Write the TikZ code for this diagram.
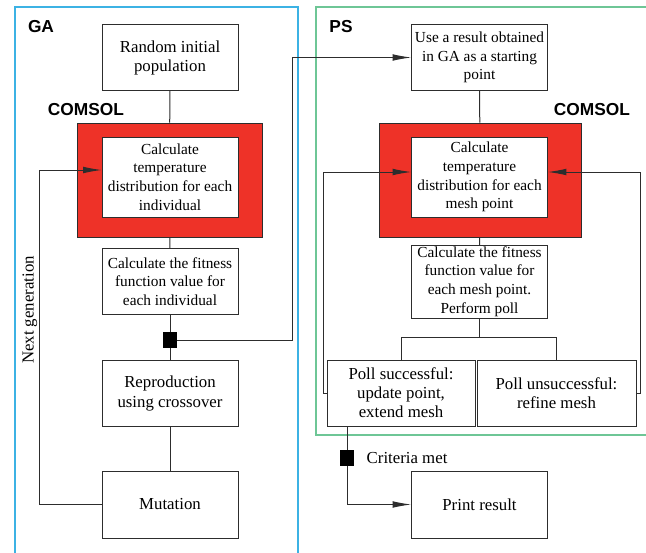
\documentclass[tikz,border=0pt]{standalone}
\usepackage{fontspec}
\setmainfont{Liberation Serif}
\setsansfont{Liberation Sans}
\usepackage{xcolor}
\definecolor{gablue}{RGB}{60,178,228}
\definecolor{psgreen}{RGB}{110,198,150}
\definecolor{comsolred}{RGB}{238,50,40}
\definecolor{darkline}{RGB}{45,45,45}
\usetikzlibrary{arrows.meta,positioning,calc}

\begin{document}
\begin{tikzpicture}[x=0.75pt, y=-0.75pt,
        box/.style={rectangle, draw=darkline, fill=white, minimum width=102pt, minimum height=49.5pt, align=center, inner sep=1pt, font=\fontsize{11.5}{14}\selectfont},
        bigtext/.style={font=\fontsize{12.6}{14.3}\selectfont},
        redbox/.style={rectangle, draw=darkline, fill=comsolred, minimum height=85.5pt},
        link/.style={draw=darkline, line width=0.75pt},
        arrow/.style={link, -{Latex[length=14pt, width=5pt]}},
        junction/.style={rectangle, fill=black, minimum width=10.5pt, minimum height=12pt, inner sep=0pt},
        tag/.style={font=\sffamily\bfseries\fontsize{13}{15}\selectfont}
    ]
        \useasboundingbox (0,0) rectangle (646,553);

        % frames
        \draw[gablue, line width=1pt] (15,553) |- (298,7) -- (298,553);
        \draw[psgreen, line width=1pt] (646,7) -| (316,435) -- (646,435);
        \node[tag] (galabel) at (41,27) {GA};
        \node[tag] (pslabel) at (341,27) {PS};

        % GA column
        \node[box, bigtext] (random) at (170,57.5) {Random initial\\population};
        \node[tag] (comsolga) at (86,110) {COMSOL};
        \node[redbox, minimum width=138.75pt] (redga) at (169.5,180) {};
        \node[box, minimum height=60pt] (calcga) at (170,177) {Calculate\\temperature\\distribution for each\\individual};
        \node[box] (fitga) at (170,281.5) {Calculate the fitness\\function value for\\each individual};
        \node[junction] (jga) at (170,340) {};
        \node[box, bigtext] (repro) at (170,393.5) {Reproduction\\using crossover};
        \node[box, bigtext, minimum height=50pt] (mutation) at (170,504.5) {Mutation};
        \node[rotate=90, bigtext] (nextgen) at (30,310) {Next generation};

        % PS column
        \node[box] (usega) at (479.5,57.5) {Use a result obtained\\in GA as a starting\\point};
        \node[tag] (comsolps) at (592,110) {COMSOL};
        \node[redbox, minimum width=151.5pt] (redps) at (480,180) {};
        \node[box, minimum height=60pt] (calcps) at (479.5,177) {Calculate\\temperature\\distribution for each\\mesh point};
        \node[box] (fitps) at (479.5,281.5) {Calculate the fitness\\function value for\\each mesh point.\\Perform poll};
        \node[box, bigtext, minimum width=111pt] (success) at (401,393) {Poll successful:\\update point,\\extend mesh};
        \node[box, bigtext, minimum width=119.25pt] (fail) at (556.5,393) {Poll unsuccessful:\\refine mesh};
        \node[junction] (jps) at (347,458) {};
        \node[anchor=west, bigtext] (criteria) at (362,458) {Criteria met};
        \node[box, bigtext, minimum height=50pt] (print) at (479.5,504.5) {Print result};

        \coordinate (loopga) at (39,170);
        \coordinate (hop) at (292,57.5);
        \coordinate (split) at (479.5,337);
        \coordinate (loopl) at (323,172);
        \coordinate (loopr) at (640,172);

        % GA links
        \draw[link] (random) -- (redga);
        \draw[link] (redga) -- (fitga);
        \draw[link] (fitga) -- (jga);
        \draw[link] (jga) -- (repro);
        \draw[link] (repro) -- (mutation);
        \draw[arrow] (mutation.west) -| (loopga) -- (loopga -| calcga.west);
        \draw[arrow] (jga.east) -| (hop) -- (usega.west);

        % PS links
        \draw[link] (usega) -- (redps);
        \draw[link] (redps) -- (fitps);
        \draw[link] (fitps) -- (split);
        \draw[link] (split) -| (success.north);
        \draw[link] (split) -| (fail.north);
        \draw[arrow] (success.west) -| (loopl) -- (loopl -| calcps.west);
        \draw[arrow] (fail.east) -| (loopr) -- (loopr -| calcps.east);
        \draw[link] (jps |- success.south) -- (jps);
        \draw[arrow] (jps) |- (print);
    \end{tikzpicture}
\end{document}
